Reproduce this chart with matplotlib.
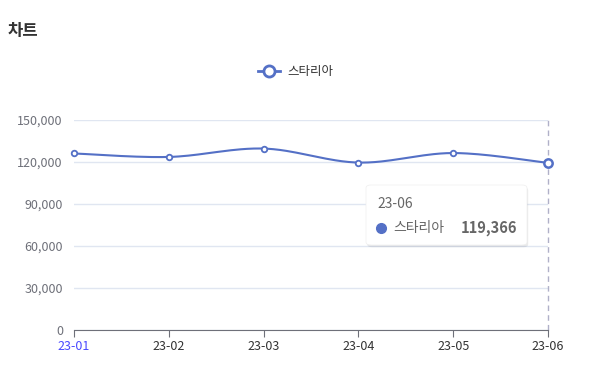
import numpy as np
import matplotlib.pyplot as plt
from matplotlib.patches import FancyBboxPatch

plt.rcParams['font.family'] = ['Noto Sans CJK KR', 'DejaVu Sans']

months = ["23-01", "23-02", "23-03", "23-04", "23-05", "23-06"]
sales = [126100, 123600, 129600, 119600, 126400, 119366]
series_name = "스타리아"
y_ticks = [0, 30000, 60000, 90000, 120000, 150000]

LINE = "#5470c6"
AXIS = "#6e7079"
GRID = "#e0e6f1"


def smooth_curve(xs, ys, n=30, t=0.5):
    # catmull-rom style smoothing, similar look to echarts smooth lines
    xs = np.asarray(xs, float); ys = np.asarray(ys, float)
    px, py = [], []
    for i in range(len(xs) - 1):
        x0, y0 = (xs[i - 1], ys[i - 1]) if i > 0 else (xs[i], ys[i])
        x3, y3 = (xs[i + 2], ys[i + 2]) if i + 2 < len(xs) else (xs[i + 1], ys[i + 1])
        x1, y1, x2, y2 = xs[i], ys[i], xs[i + 1], ys[i + 1]
        c1 = (x1 + (x2 - x0) * t / 3, y1 + (y2 - y0) * t / 3)
        c2 = (x2 - (x3 - x1) * t / 3, y2 - (y3 - y1) * t / 3)
        s = np.linspace(0, 1, n)
        bx = (1-s)**3*x1 + 3*(1-s)**2*s*c1[0] + 3*(1-s)*s**2*c2[0] + s**3*x2
        by = (1-s)**3*y1 + 3*(1-s)**2*s*c1[1] + 3*(1-s)*s**2*c2[1] + s**3*y2
        px.extend(bx); py.extend(by)
    return np.array(px), np.array(py)


fig = plt.figure(figsize=(5.97, 3.76), dpi=100)
ax = fig.add_axes([74/597, 46/376, 474/597, 210/376])

x = np.arange(len(months))
sx, sy = smooth_curve(x, sales)
ax.plot(sx, sy, color=LINE, lw=1.5, zorder=3, solid_capstyle='round', clip_on=False)
ax.plot(x[:-1], sales[:-1], 'o', ms=4, mfc='white', mec=LINE, mew=1.3, zorder=4, clip_on=False)
ax.plot(x[-1], sales[-1], 'o', ms=6, mfc='white', mec=LINE, mew=1.8, zorder=5, clip_on=False)

ax.set_xlim(0, len(months) - 1)
ax.set_ylim(0, 150000)
ax.set_yticks(y_ticks)
ax.set_yticklabels([f"{v:,}" for v in y_ticks])
ax.set_xticks(x)
ax.set_xticklabels(months)
ax.grid(axis='y', color=GRID, lw=1)
ax.set_axisbelow(True)
for s in ['top', 'right', 'left']:
    ax.spines[s].set_visible(False)
ax.spines['bottom'].set_color(AXIS)
ax.tick_params(axis='y', length=0, colors=AXIS, labelsize=9, pad=8)
ax.tick_params(axis='x', length=5, color=AXIS, labelcolor='#333333', labelsize=9, pad=2)
ax.get_xticklabels()[0].set_color('#4a4aff')

# hover pointer line
ax.axvline(x[-1], color='#b0b0c8', lw=1, ls=(0, (4, 3)), zorder=2, clip_on=False)

# title
fig.text(8/597, 1 - 31/376, "차트", fontsize=12, fontweight='bold', color='#333333', va='center')

# legend
ly = 1 - 71/376
fig.add_artist(plt.Line2D([258/597, 280/597], [ly, ly], color=LINE, lw=2))
fig.add_artist(plt.Line2D([269/597], [ly], marker='o', ms=8, mfc='white', mec=LINE, mew=2))
fig.text(287/597, ly, series_name, fontsize=9, color='#333333', va='center')

# tooltip
bx0, by0, bw, bh = 366/597, 1 - 245/376, 161/597, 60/376
shadow = FancyBboxPatch((bx0 + 0.002, by0 - 0.006), bw, bh, boxstyle="round,pad=0,rounding_size=0.008",
                        transform=fig.transFigure, fc='#000000', alpha=0.08, ec='none', zorder=9)
fig.add_artist(shadow)
box = FancyBboxPatch((bx0, by0), bw, bh, boxstyle="round,pad=0,rounding_size=0.008",
                     transform=fig.transFigure, fc='white', ec='#eeeeee', lw=0.5, zorder=10)
fig.add_artist(box)
fig.text(377/597, 1 - 204/376, months[-1], fontsize=10, color='#666666', va='center', zorder=11)
fig.add_artist(plt.Line2D([381/597], [1 - 228/376], marker='o', ms=7, color=LINE, mec=LINE, zorder=11))
fig.text(393/597, 1 - 228/376, series_name, fontsize=10, color='#666666', va='center', zorder=11)
fig.text(517/597, 1 - 228/376, f"{sales[-1]:,}", fontsize=10.5, fontweight='bold', color='#666666',
         va='center', ha='right', zorder=11)

fig.savefig("out.png", dpi=100)
